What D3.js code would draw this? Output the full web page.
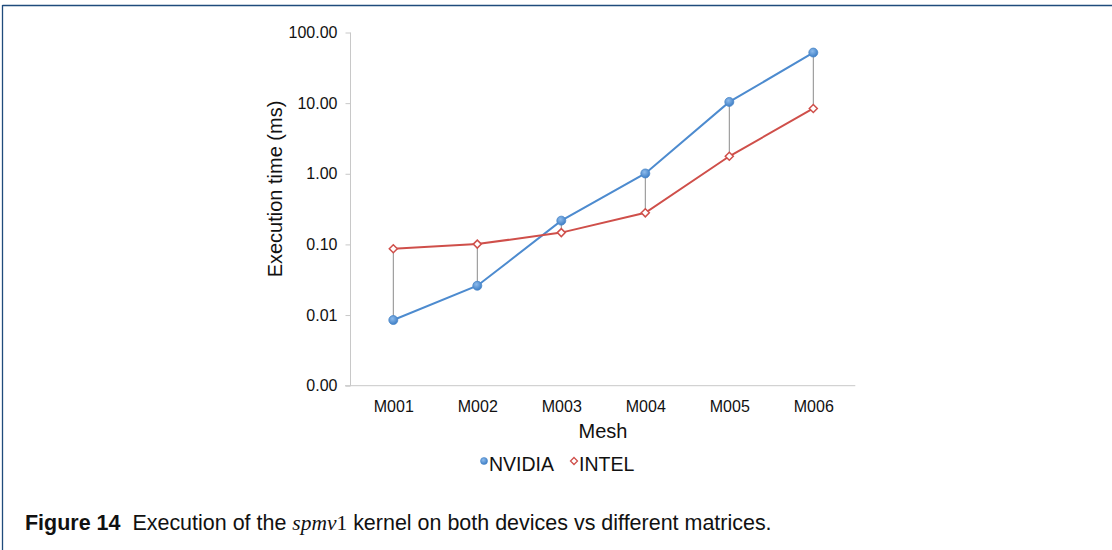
<!DOCTYPE html>
<html><head><meta charset="utf-8">
<script src="https://cdn.jsdelivr.net/npm/d3@7"></script>
<style>
html,body{margin:0;padding:0;background:#fff;}
svg{display:block;}
</style></head>
<body>
<svg id="c" width="1112" height="550"></svg>
<script>
const categories = ["M001","M002","M003","M004","M005","M006"];
const nvidia = [0.0085, 0.026, 0.217, 1.01, 10.4, 52];
const intel  = [0.087, 0.101, 0.147, 0.28, 1.77, 8.4];
const yTicks = [0.001, 0.01, 0.1, 1, 10, 100];
const seriesNames = ["NVIDIA","INTEL"];

const svg = d3.select("#c");
const FONT = "'Liberation Sans', Arial, sans-serif";
const blue = "#4d8bcf", red = "#cf4f4a";

// frame
svg.append("line").attr("x1",2.5).attr("x2",1112).attr("y1",5.5).attr("y2",5.5).attr("stroke","#1f4b7c").attr("stroke-width",1.3);
svg.append("line").attr("x1",2.5).attr("x2",2.5).attr("y1",5).attr("y2",550).attr("stroke","#1f4b7c").attr("stroke-width",1.3);

const x = d3.scalePoint().domain(categories).range([351.3, 855.3]).padding(0.5);
const y = d3.scaleLog().domain([0.001, 100]).range([385.7, 32.5]);

// y axis
const yAxis = d3.axisLeft(y).tickValues(yTicks).tickFormat(d3.format(".2f")).tickSize(5).tickPadding(8);
const gy = svg.append("g").attr("transform","translate(350.5,0)").call(yAxis);
gy.select(".domain").attr("stroke","#c8c8c8").attr("d","M0,32.5V385.7");
gy.selectAll(".tick line").attr("stroke","#c8c8c8");
gy.selectAll(".tick text").attr("font-family",FONT).attr("font-size",16).attr("fill","#111");

// x axis
const xAxis = d3.axisBottom(x).tickSize(0).tickPadding(15);
const gx = svg.append("g").attr("transform","translate(0,385.7)").call(xAxis);
gx.select(".domain").attr("stroke","#c8c8c8").attr("d","M345,0H855.3");
gx.selectAll(".tick text").attr("font-family",FONT).attr("font-size",16).attr("fill","#111");

// axis titles
svg.append("text").attr("x",603).attr("y",438).attr("text-anchor","middle")
  .attr("font-family",FONT).attr("font-size",20).attr("fill","#111").text("Mesh");
svg.append("text").attr("transform","translate(282,189) rotate(-90)").attr("text-anchor","middle")
  .attr("font-family",FONT).attr("font-size",20).attr("fill","#111").text("Execution time (ms)");

// high-low lines
svg.append("g").selectAll("line").data(categories).join("line")
  .attr("x1",d=>x(d)).attr("x2",d=>x(d))
  .attr("y1",(d,i)=>y(nvidia[i])).attr("y2",(d,i)=>y(intel[i]))
  .attr("stroke","#8a8a8a").attr("stroke-width",1);

const line = d3.line().x((d,i)=>x(categories[i])).y(d=>y(d));
svg.append("path").datum(nvidia).attr("d",line).attr("fill","none").attr("stroke",blue).attr("stroke-width",2);
svg.append("path").datum(intel).attr("d",line).attr("fill","none").attr("stroke",red).attr("stroke-width",2);

// gradient for blue markers
const defs = svg.append("defs");
const rg = defs.append("radialGradient").attr("id","bg").attr("cx","40%").attr("cy","35%").attr("r","65%");
rg.append("stop").attr("offset","0%").attr("stop-color","#8dbbec");
rg.append("stop").attr("offset","100%").attr("stop-color","#3f7fc6");

svg.append("g").selectAll("circle").data(nvidia).join("circle")
  .attr("cx",(d,i)=>x(categories[i])).attr("cy",d=>y(d)).attr("r",4.5)
  .attr("fill","url(#bg)").attr("stroke","#4a86c8").attr("stroke-width",0.8);

const diamond = (cx,cy,s)=>`M${cx},${cy-s}L${cx+s},${cy}L${cx},${cy+s}L${cx-s},${cy}Z`;
svg.append("g").selectAll("path").data(intel).join("path")
  .attr("d",(d,i)=>diamond(x(categories[i]),y(d),4))
  .attr("fill","#fff").attr("stroke",red).attr("stroke-width",1.5);

// legend
const lg = svg.append("g");
lg.append("circle").attr("cx",484).attr("cy",461).attr("r",3.5).attr("fill","url(#bg)").attr("stroke","#4a86c8").attr("stroke-width",0.6);
lg.append("text").attr("x",489).attr("y",471).attr("font-family",FONT).attr("font-size",19.5).attr("fill","#111").text(seriesNames[0]);
lg.append("path").attr("d",diamond(574,461,3.5)).attr("fill","#fff").attr("stroke",red).attr("stroke-width",1.3);
lg.append("text").attr("x",579).attr("y",471).attr("font-family",FONT).attr("font-size",19.5).attr("fill","#111").text(seriesNames[1]);

// caption
const cap = svg.append("text").attr("x",25).attr("y",530).attr("font-family",FONT).attr("font-size",17).attr("fill","#111");
cap.append("tspan").attr("font-weight","bold").text("Figure 14");
cap.append("tspan").text("\u00a0 Execution of the ");
cap.append("tspan").attr("font-family","'Liberation Serif', serif").attr("font-style","italic").text("spmv");
cap.append("tspan").attr("font-family","'Liberation Serif', serif").text("1");
cap.append("tspan").text(" kernel on both devices vs different matrices.");
const w = cap.node().getComputedTextLength();
const fs = 17 * 747 / w;
cap.attr("font-size", fs);
cap.selectAll("tspan").attr("font-size", fs);
</script>
</body></html>
